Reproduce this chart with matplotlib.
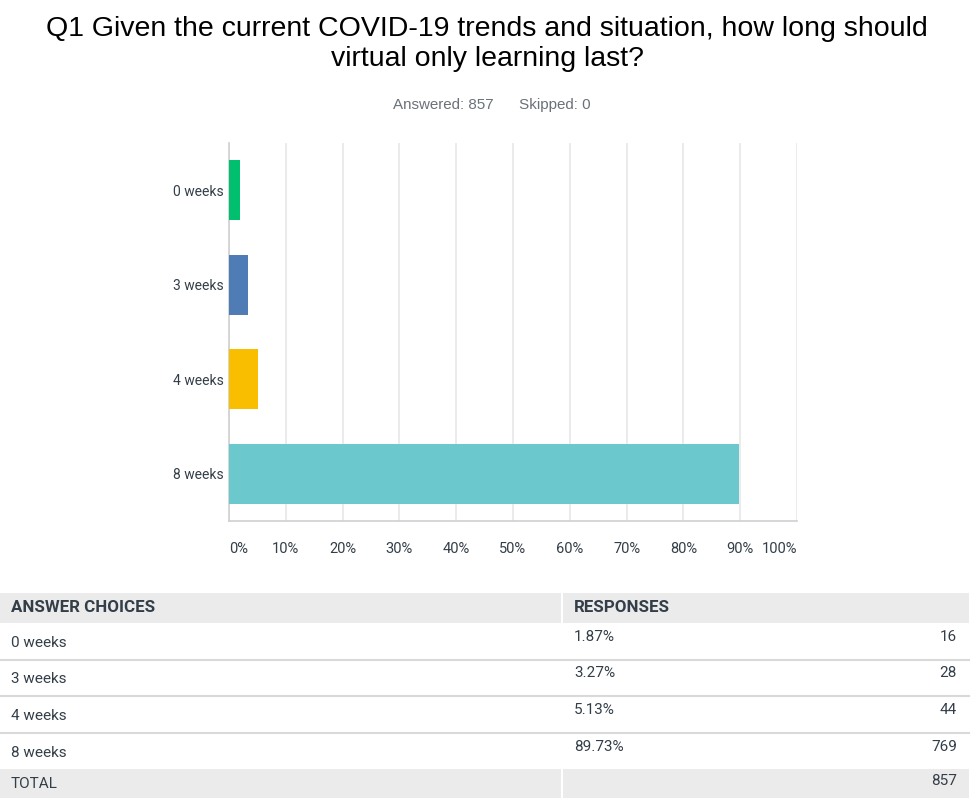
import matplotlib
matplotlib.use("Agg")
import matplotlib.pyplot as plt
from matplotlib.patches import Rectangle

categories = ["0 weeks", "3 weeks", "4 weeks", "8 weeks"]
percents = [1.87, 3.27, 5.13, 89.73]
counts = [16, 28, 44, 769]
total = 857
answered = 857
skipped = 0
colors = ["#00bf6f", "#507cb6", "#f9be00", "#6bc8cd"]
title = "Q1 Given the current COVID-19 trends and situation, how long should\nvirtual only learning last?"
xticks = [0, 10, 20, 30, 40, 50, 60, 70, 80, 90, 100]

W, H = 974, 806
fig = plt.figure(figsize=(W / 100, H / 100), dpi=100)
plt.rcParams['font.family'] = ['Liberation Sans', 'DejaVu Sans']

fig.text(487 / W, 1 - 44 / H, title, ha="center", va="center", fontsize=20.5,
         color="#000000", linespacing=1.25)
fig.text(492 / W, 1 - 105 / H, f"Answered: {answered}      Skipped: {skipped}",
         ha="center", va="center", fontsize=10.9, color="#6a7178")

# bar chart
ax = fig.add_axes([229 / W, 1 - 521 / H, (797 - 229) / W, (521 - 143) / H])
ypos = list(range(len(categories)))
ax.barh(ypos, percents, height=0.63, color=colors, zorder=3)
ax.set_xlim(0, 100)
ax.set_ylim(len(categories) - 0.5, -0.5)
ax.set_yticks(ypos)
ax.set_yticklabels(categories, fontsize=10, color="#333e48", family=["Roboto", "DejaVu Sans"])
ax.set_xticks(xticks)
ax.set_xticklabels([f"{t}%" for t in xticks], fontsize=10.5, color="#333e48",
                   family=["Roboto", "DejaVu Sans"])
lbls = ax.get_xticklabels()
lbls[0].set_ha("left")
lbls[-1].set_ha("right")
ax.tick_params(axis="both", length=0)
ax.tick_params(axis="x", pad=15)
ax.tick_params(axis="y", pad=4)
ax.grid(axis="x", color="#e8e8e8", linewidth=1.2, zorder=0)
for s in ["top", "right"]:
    ax.spines[s].set_visible(False)
ax.spines["left"].set_color("#d0d0d0")
ax.spines["bottom"].set_color("#d0d0d0")
ax.spines["left"].set_linewidth(1.2)
ax.spines["bottom"].set_linewidth(1.2)

# table
tax = fig.add_axes([0, 0, 1, 1])
tax.set_xlim(0, W)
tax.set_ylim(H, 0)
tax.axis("off")
tfont = ["Roboto", "DejaVu Sans"]
tc = "#333e48"
gray = "#ebebeb"
divx = 562
right = 969

# header
tax.add_patch(Rectangle((0, 593), divx - 1, 30, color=gray, lw=0))
tax.add_patch(Rectangle((divx + 1, 593), right - divx - 1, 30, color=gray, lw=0))
tax.text(11, 608, "ANSWER CHOICES", fontsize=12.2, fontweight="bold", color=tc,
         va="center", ha="left", family=tfont)
tax.text(574, 608, "RESPONSES", fontsize=12.2, fontweight="bold", color=tc,
         va="center", ha="left", family=tfont)

row_tops = [623, 659, 696, 733]
row_h = 36.5
for i, (cat, p, c) in enumerate(zip(categories, percents, counts)):
    top = row_tops[i]
    tax.text(11, top + 20, cat, fontsize=11, color=tc, va="center", ha="left", family=tfont)
    tax.text(574, top + 14, f"{p:.2f}%", fontsize=11, color=tc, va="center", ha="left", family=tfont)
    tax.text(957, top + 14, f"{c}", fontsize=11, color=tc, va="center", ha="right", family=tfont)
    if i < len(categories) - 1:
        tax.plot([0, right], [top + row_h, top + row_h], color="#d9d9d9", lw=1.5)

# total row
tax.add_patch(Rectangle((0, 769), divx - 1, 29, color=gray, lw=0))
tax.add_patch(Rectangle((divx + 1, 769), right - divx - 1, 29, color=gray, lw=0))
tax.text(11, 784, "TOTAL", fontsize=11, color=tc, va="center", ha="left", family=tfont)
tax.text(957, 781, f"{total}", fontsize=11, color=tc, va="center", ha="right", family=tfont)

fig.savefig("out.png", dpi=100)
